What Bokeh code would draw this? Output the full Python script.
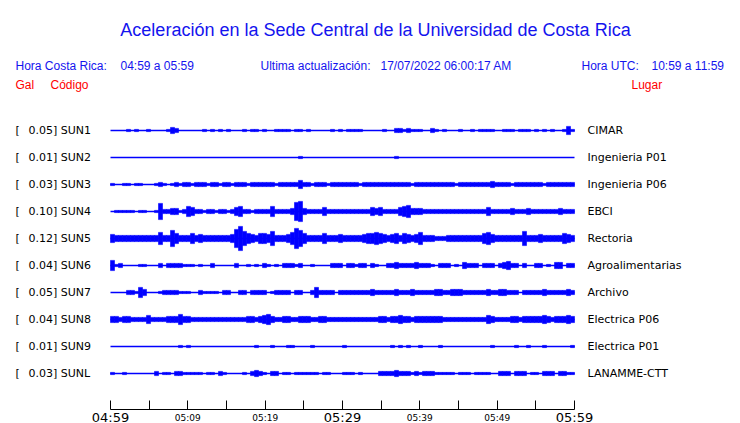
from bokeh.plotting import figure
from bokeh.models import Range1d, LinearAxis, FixedTicker, Label, ColumnDataSource
from bokeh.embed import file_html
from bokeh.resources import INLINE

# ---------------- data ----------------
TITLE = "Aceleración en la Sede Central de la Universidad de Costa Rica"
HORA_CR = "04:59 a 05:59"
HORA_UTC = "10:59 a 11:59"
ULTIMA = "17/07/2022 06:00:17 AM"

codes = ["SUN1", "SUN2", "SUN3", "SUN4", "SUN5", "SUN6", "SUN7", "SUN8", "SUN9", "SUNL"]
gals = [0.05, 0.01, 0.03, 0.10, 0.12, 0.04, 0.05, 0.04, 0.01, 0.03]
places = ["CIMAR", "Ingenieria P01", "Ingenieria P06", "EBCI", "Rectoria",
          "Agroalimentarias", "Archivo", "Electrica P06", "Electrica P01", "LANAMME-CTT"]

# envelope of each record: one base-36 digit per ~31 s window (116 windows over 60 min),
# amplitude in relative units
env_sun1 = ("0000101001" "0000132000" "0001010101" "0001011010" "0111101101" "0000010101"
            "1110000010" "0221211100" "2101000100" "1011110011" "1011101010" "100141")
env_sun2 = ("0000000000" "0000000000" "0000000000" "0000000000" "0000000100" "0000000000"
            "0000000000" "0100000000" "0000000000" "0000000000" "0000000000" "000000")
env_sun3 = ("1001101100" "0121012122" "1222122122" "1222122222" "2122222422" "1222122222"
            "2212222222" "2222212222" "2222221222" "2222232222" "1222222212" "222222")
env_sun4 = ("0111110110" "0182233125" "4221221221" "2452212222" "5222239a32" "2224222222"
            "2222243422" "2245633322" "2222222222" "2222422222" "3222322222" "223222")
env_sun5 = ("4333333333" "3363385333" "5343333333" "49c7543554" "733346a853" "3335333433"
            "3334556543" "4535434633" "3222333333" "3335643333" "3337333433" "333543")
env_sun6 = ("5120000110" "0020222211" "1010020000" "0200101021" "0102221200" "1000022202"
            "2122021002" "2322223222" "1022201032" "2202220234" "2202002201" "033022")
env_sun7 = ("0000221530" "0012222111" "0021111022" "0022022220" "1222202200" "2522220222"
            "2222232222" "2322232222" "2332233322" "2222322332" "2202222232" "222232")
env_sun8 = ("3323322224" "2222333533" "2222222222" "2222332345" "3223322333" "2233222222"
            "2222222332" "3343323333" "3332222222" "2222432222" "3323333343" "233343")
env_sun9 = ("0000000000" "0000000101" "0000000000" "0000001000" "1000110000" "1000000010"
            "0000000000" "1010100100" "0010000000" "0000010000" "0100100010" "000001")
env_sunl = ("1001000000" "0201102211" "1110110210" "0001023210" "2201101111" "1101100011"
            "1010000222" "2322212122" "2111110111" "0111100222" "0222011022" "202211")
envelopes = [env_sun1, env_sun2, env_sun3, env_sun4, env_sun5,
             env_sun6, env_sun7, env_sun8, env_sun9, env_sunl]

DURATION_MIN = 60
tick_minutes = [0, 5, 10, 15, 20, 25, 30, 35, 40, 45, 50, 55, 60]
small_tick_labels = {10: "05:09", 20: "05:19", 40: "05:39", 50: "05:49"}
big_tick_labels = {0: "04:59", 30: "05:29", 60: "05:59"}

# ---------------- layout / style ----------------
W, H = 740, 423
PX_PER_MIN = 464 / 60.0
X0 = -110 / PX_PER_MIN
X1 = X0 + W / PX_PER_MIN
PX_PER_TRACE = 27.0
Y1 = 130 / PX_PER_TRACE
Y0 = Y1 - H / PX_PER_TRACE
AXIS_Y = Y1 - 409 / PX_PER_TRACE
AMP = 1.0 / PX_PER_TRACE

BLUE = "#0000ff"
TXT_BLUE = "#1414ee"
RED = "#ff0000"
SANS = "Liberation Sans"
DJV = "DejaVu Sans"

p = figure(width=W, height=H, x_range=Range1d(X0, X1), y_range=Range1d(Y0, Y1),
           output_backend="svg", toolbar_location=None,
           x_axis_type=None, y_axis_type=None,
           min_border_left=0, min_border_right=0, min_border_top=0, min_border_bottom=0)
p.outline_line_color = None
p.background_fill_color = "white"
p.border_fill_color = "white"

# traces
left, right, bottom, top = [], [], [], []
for k, env in enumerate(envelopes):
    n = len(env)
    dt = DURATION_MIN / n
    for i, ch in enumerate(env):
        a = int(ch, 36)
        if a > 0:
            left.append(i * dt)
            right.append((i + 1) * dt)
            bottom.append(-k - (a + 0.1) * AMP)
            top.append(-k + (a + 0.1) * AMP)
src = ColumnDataSource(dict(left=left, right=right, bottom=bottom, top=top))
p.quad(left="left", right="right", bottom="bottom", top="top", source=src,
       fill_color=BLUE, line_color=BLUE, line_width=0.6)
ys = [-k for k in range(len(codes))]
p.segment(x0=[0] * len(ys), x1=[DURATION_MIN] * len(ys), y0=ys, y1=ys,
          line_color=BLUE, line_width=1.3)

# station labels
for k in range(len(codes)):
    p.add_layout(Label(x=15, x_units="screen", y=-k, y_units="data", text="[",
                       text_font=DJV, text_font_size="11px", text_baseline="middle",
                       text_color="black"))
    p.add_layout(Label(x=28, x_units="screen", y=-k, y_units="data",
                       text=f"{gals[k]:.2f}] {codes[k]}",
                       text_font=DJV, text_font_size="11px", text_baseline="middle",
                       text_color="black"))
    p.add_layout(Label(x=587, x_units="screen", y=-k, y_units="data", text=places[k],
                       text_font=DJV, text_font_size="11px", text_baseline="middle",
                       text_color="black"))


def hdr(x, y, text, color, size="12px", align="left"):
    p.add_layout(Label(x=x, y=H - y, x_units="screen", y_units="screen", text=text,
                       text_font=SANS, text_font_size=size, text_color=color,
                       text_align=align, text_baseline="alphabetic"))


hdr(375, 29, TITLE, TXT_BLUE, size="18px", align="center")
hdr(15, 65, "Hora Costa Rica:", TXT_BLUE)
hdr(120, 65, HORA_CR, TXT_BLUE)
hdr(260, 65, "Ultima actualización:", TXT_BLUE)
hdr(380, 65, ULTIMA, TXT_BLUE)
hdr(581, 65, "Hora UTC:", TXT_BLUE)
hdr(651, 65, HORA_UTC, TXT_BLUE)
hdr(15, 84, "Gal", RED)
hdr(50, 84, "Código", RED)
hdr(631, 84, "Lugar", RED)

# time axis: ticks + small labels
ax = LinearAxis(ticker=FixedTicker(ticks=tick_minutes),
                major_label_overrides={t: small_tick_labels.get(t, "") for t in tick_minutes},
                bounds=(0, DURATION_MIN), fixed_location=AXIS_Y)
ax.major_tick_in = 9
ax.major_tick_out = 0
ax.minor_tick_line_color = None
ax.axis_line_color = "black"
ax.major_tick_line_color = "black"
ax.major_label_text_font = DJV
ax.major_label_text_font_size = "9px"
ax.major_label_text_color = "black"
ax.major_label_standoff = 3
p.add_layout(ax, "below")

# big labels on the full and half hour
ax2 = LinearAxis(ticker=FixedTicker(ticks=list(big_tick_labels.keys())),
                 major_label_overrides=big_tick_labels,
                 bounds=(0, DURATION_MIN), fixed_location=AXIS_Y)
ax2.axis_line_color = None
ax2.major_tick_line_color = None
ax2.minor_tick_line_color = None
ax2.major_tick_in = 0
ax2.major_tick_out = 0
ax2.major_label_text_font = DJV
ax2.major_label_text_font_size = "13px"
ax2.major_label_text_color = "black"
ax2.major_label_standoff = 0
p.add_layout(ax2, "below")

open("out.html", "w").write(file_html(p, INLINE))
